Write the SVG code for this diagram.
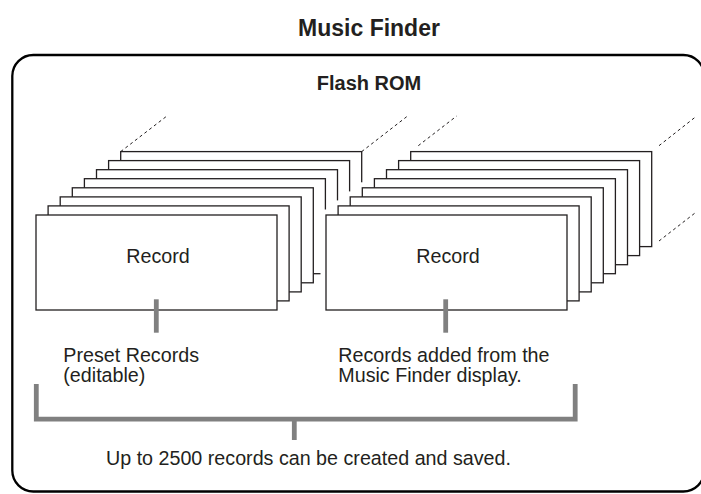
<svg xmlns="http://www.w3.org/2000/svg" width="701" height="494" viewBox="0 0 701 494">
<style>
text{font-family:"Liberation Sans",Arial,Helvetica,sans-serif;fill:#231f20}
.t{font-size:19.7px}
.b{font-weight:bold}
.card{fill:#fff;stroke:#231f20;stroke-width:1.3}
.halo{fill:#fff;stroke:#fff;stroke-width:11}
.dash{fill:none;stroke:#231f20;stroke-width:1;stroke-dasharray:3 3}
.gray{fill:none;stroke:#808080;stroke-width:4.8}
</style>
<rect width="701" height="494" fill="#fff"/>
<text x="369" y="35.5" class="b" font-size="23" text-anchor="middle">Music Finder</text>
<g id="flash-rom">
<rect x="12.3" y="55" width="692" height="436.5" rx="21" fill="none" stroke="#000" stroke-width="2.3"/>
<text x="369" y="90" class="b" font-size="20" text-anchor="middle">Flash ROM</text>
</g>
<g id="preset-stack">
<rect class="card" x="120.7" y="151.6" width="241" height="95"/>
<rect class="card" x="108.6" y="160.6" width="241" height="95"/>
<rect class="card" x="96.5" y="169.7" width="241" height="95"/>
<rect class="card" x="84.4" y="178.7" width="241" height="95"/>
<rect class="card" x="72.3" y="187.8" width="241" height="95"/>
<rect class="card" x="60.2" y="196.9" width="241" height="95"/>
<rect class="card" x="48.1" y="205.9" width="241" height="95"/>
<rect class="card" x="36" y="215" width="241" height="95"/>
<text x="158" y="262.7" class="t" text-anchor="middle">Record</text>
<line class="dash" x1="120.7" y1="151.6" x2="166" y2="116.7"/>
<line class="dash" x1="361.7" y1="151.6" x2="406.7" y2="116.7"/>
</g>
<g id="user-stack">
<rect class="halo" x="410.7" y="151.6" width="241" height="95"/>
<rect class="halo" x="398.6" y="160.6" width="241" height="95"/>
<rect class="halo" x="386.5" y="169.7" width="241" height="95"/>
<rect class="halo" x="374.4" y="178.7" width="241" height="95"/>
<rect class="halo" x="362.3" y="187.8" width="241" height="95"/>
<rect class="halo" x="350.2" y="196.9" width="241" height="95"/>
<rect class="halo" x="338.1" y="205.9" width="241" height="95"/>
<rect class="halo" x="326" y="215" width="241" height="95"/>
<rect class="card" x="410.7" y="151.6" width="241" height="95"/>
<rect class="card" x="398.6" y="160.6" width="241" height="95"/>
<rect class="card" x="386.5" y="169.7" width="241" height="95"/>
<rect class="card" x="374.4" y="178.7" width="241" height="95"/>
<rect class="card" x="362.3" y="187.8" width="241" height="95"/>
<rect class="card" x="350.2" y="196.9" width="241" height="95"/>
<rect class="card" x="338.1" y="205.9" width="241" height="95"/>
<rect class="card" x="326" y="215" width="241" height="95"/>
<text x="448" y="262.7" class="t" text-anchor="middle">Record</text>
<line class="dash" x1="418.3" y1="145.7" x2="456.7" y2="116"/>
<line class="dash" x1="659" y1="145.7" x2="696.7" y2="116"/>
<line class="dash" x1="659" y1="241" x2="696.7" y2="211.7"/>
</g>
<g id="preset-label">
<text x="63.3" y="361.7" class="t">Preset Records</text>
<text x="63.3" y="381.7" class="t">(editable)</text>
</g>
<g id="user-label">
<text x="338.3" y="361.7" class="t">Records added from the</text>
<text x="338.3" y="381.7" class="t">Music Finder display.</text>
</g>
<g id="total-label">
<text x="106" y="465" class="t">Up to 2500 records can be created and saved.</text>
</g>
<g id="connectors">
<line class="gray" x1="156.3" y1="299.3" x2="156.3" y2="332.7"/>
<line class="gray" x1="445.7" y1="299.3" x2="445.7" y2="332.7"/>
<path class="gray" d="M36.3,384 V419.2 H575.2 V384" stroke-linejoin="miter"/>
<line class="gray" x1="294.3" y1="419" x2="294.3" y2="440"/>
</g>
</svg>
